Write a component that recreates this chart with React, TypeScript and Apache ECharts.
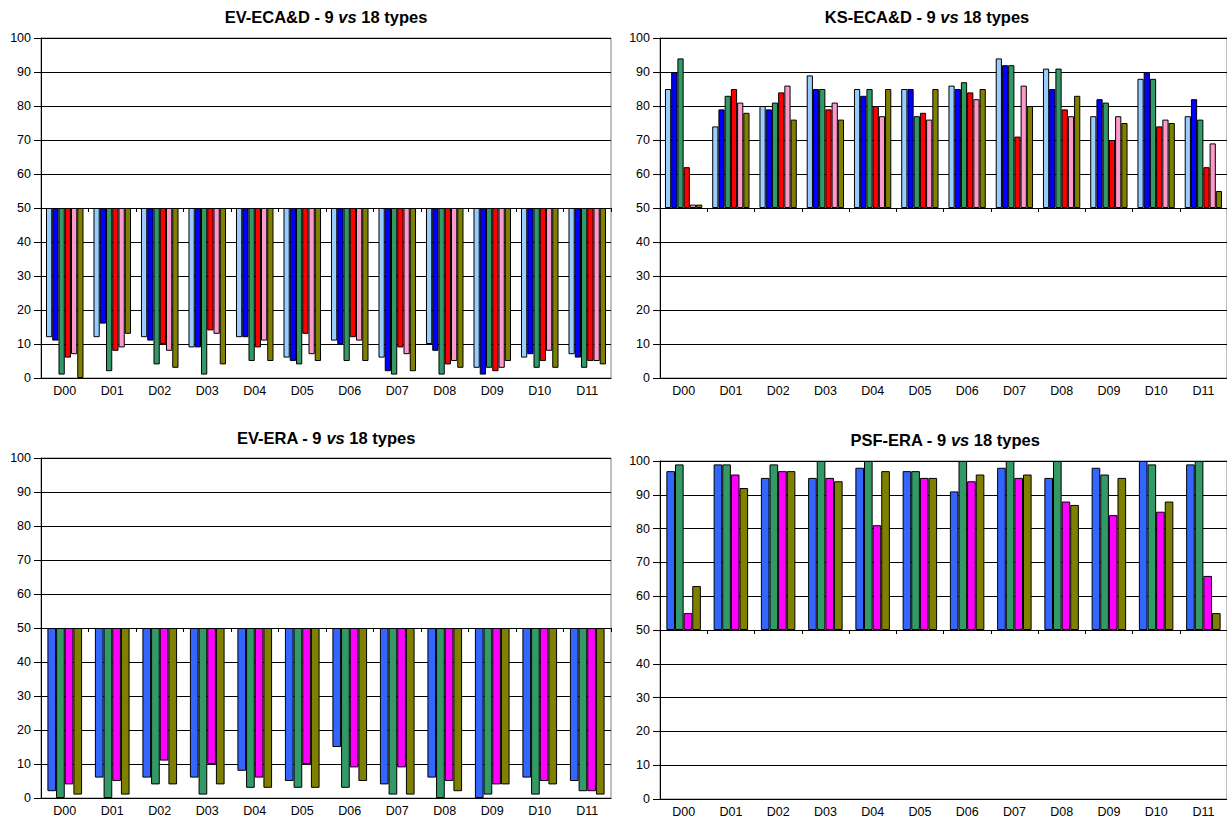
import React, { useEffect, useRef } from "react";
import * as echarts from "echarts";

const categories = ["D00", "D01", "D02", "D03", "D04", "D05", "D06", "D07", "D08", "D09", "D10", "D11"];
const yTickLabels = ["0", "10", "20", "30", "40", "50", "60", "70", "80", "90", "100"];

// EV-ECA&D
const evEcad1 = [12, 12, 12, 9, 12, 6, 11, 6, 10, 3, 6, 7];
const evEcad2 = [11, 16, 11, 9, 12, 5, 10, 2, 8, 1, 7, 6];
const evEcad3 = [1, 2, 4, 1, 5, 4, 5, 1, 1, 3, 3, 3];
const evEcad4 = [6, 8, 10, 14, 9, 13, 12, 9, 4, 2, 5, 5];
const evEcad5 = [7, 9, 8, 13, 11, 7, 11, 7, 5, 3, 8, 5];
const evEcad6 = [0, 13, 3, 4, 5, 5, 5, 2, 3, 5, 3, 4];

// KS-ECA&D
const ksEcad1 = [85, 74, 80, 89, 85, 85, 86, 94, 91, 77, 88, 77];
const ksEcad2 = [90, 79, 79, 85, 83, 85, 85, 92, 85, 82, 90, 82];
const ksEcad3 = [94, 83, 81, 85, 85, 77, 87, 92, 91, 81, 88, 76];
const ksEcad4 = [62, 85, 84, 79, 80, 78, 84, 71, 79, 70, 74, 62];
const ksEcad5 = [51, 81, 86, 81, 77, 76, 82, 86, 77, 77, 76, 69];
const ksEcad6 = [51, 78, 76, 76, 85, 85, 85, 80, 83, 75, 75, 55];

// EV-ERA
const evEra1 = [2, 6, 6, 6, 8, 5, 15, 4, 6, 0, 6, 5];
const evEra2 = [0, 0, 4, 1, 3, 3, 3, 1, 0, 1, 1, 2];
const evEra3 = [4, 5, 11, 10, 6, 10, 9, 9, 5, 4, 5, 2];
const evEra4 = [1, 1, 4, 4, 3, 3, 5, 1, 2, 4, 4, 1];

// PSF-ERA
const psfEra1 = [97, 99, 95, 95, 98, 97, 91, 98, 95, 98, 100, 99];
const psfEra2 = [99, 99, 99, 100, 100, 97, 100, 100, 100, 96, 99, 100];
const psfEra3 = [55, 96, 97, 95, 81, 95, 94, 95, 88, 84, 85, 66];
const psfEra4 = [63, 92, 97, 94, 97, 95, 96, 96, 87, 95, 88, 55];

const BASE = 50;
const FONT = '"Liberation Sans", Arial, Helvetica, sans-serif';
const LABEL_SIZE = 12.5;
const TITLE_SIZE = 16.5;

const ecadColors = ["#99CCFF", "#0000FF", "#339966", "#FF0000", "#FF99CC", "#808000"];
const eraColors = ["#3366FF", "#339966", "#FF00FF", "#808000"];

const panels = [
  {
    title: ["EV-ECA&D - 9 ", "vs", " 18 types"],
    titleX: 326,
    titleY: 17,
    grid: { left: 41, top: 38, width: 570, height: 340 },
    series: [evEcad1, evEcad2, evEcad3, evEcad4, evEcad5, evEcad6],
    colors: ecadColors,
    gap: "21%",
  },
  {
    title: ["KS-ECA&D - 9 ", "vs", " 18 types"],
    titleX: 927,
    titleY: 17,
    grid: { left: 660, top: 38, width: 570, height: 340 },
    series: [ksEcad1, ksEcad2, ksEcad3, ksEcad4, ksEcad5, ksEcad6],
    colors: ecadColors,
    gap: "21%",
  },
  {
    title: ["EV-ERA - 9 ", "vs", " 18 types"],
    titleX: 326,
    titleY: 438,
    grid: { left: 41, top: 458, width: 570, height: 340 },
    series: [evEra1, evEra2, evEra3, evEra4],
    colors: eraColors,
    gap: "27%",
  },
  {
    title: ["PSF-ERA - 9 ", "vs", " 18 types"],
    titleX: 945,
    titleY: 440,
    grid: { left: 660, top: 461, width: 570, height: 339 },
    series: [psfEra1, psfEra2, psfEra3, psfEra4],
    colors: eraColors,
    gap: "27%",
  },
];

function buildOption() {
  const grid: any[] = [];
  const xAxis: any[] = [];
  const yAxis: any[] = [];
  const series: any[] = [];
  const graphic: any[] = [];

  panels.forEach((p, i) => {
    grid.push({
      ...p.grid,
      show: true,
      borderColor: "#808080",
      borderWidth: 1,
      backgroundColor: "transparent",
      containLabel: false,
    });
    // labelled axis at bottom (value 0)
    xAxis.push({
      gridIndex: i,
      type: "category",
      data: categories,
      position: "bottom",
      axisLine: { show: true, onZero: false, lineStyle: { color: "#000", width: 1 } },
      axisTick: { show: false },
      axisLabel: { color: "#000", fontSize: LABEL_SIZE, fontFamily: FONT, margin: 6 },
      splitLine: { show: false },
    });
    // axis crossing at 50 with ticks
    xAxis.push({
      gridIndex: i,
      type: "category",
      data: categories,
      position: "bottom",
      axisLine: { show: true, onZero: true, onZeroAxisIndex: i, lineStyle: { color: "#000", width: 1 } },
      axisTick: { show: true, length: 4, lineStyle: { color: "#000" } },
      axisLabel: { show: false },
      splitLine: { show: false },
    });
    yAxis.push({
      gridIndex: i,
      type: "value",
      min: -BASE,
      max: 100 - BASE,
      interval: 10,
      axisLine: { show: true, lineStyle: { color: "#000", width: 1 } },
      axisTick: { show: true, length: 7, lineStyle: { color: "#000" } },
      axisLabel: {
        color: "#000",
        fontSize: LABEL_SIZE,
        fontFamily: FONT,
        margin: 10,
        formatter: (v: number) => yTickLabels[Math.round((v + BASE) / 10)] ?? String(v + BASE),
      },
      splitLine: { show: true, lineStyle: { color: "#000", width: 1 } },
    });
    p.series.forEach((arr, k) => {
      series.push({
        type: "bar",
        name: `${p.title[0].split(" ")[0]} ${k + 1}`,
        xAxisIndex: 2 * i,
        yAxisIndex: i,
        data: arr.map((v) => v - BASE),
        barGap: "0%",
        barCategoryGap: p.gap,
        itemStyle: { color: p.colors[k], borderColor: "#000", borderWidth: 1 },
        emphasis: { disabled: true },
      });
    });
    graphic.push({
      type: "text",
      x: p.titleX,
      y: p.titleY,
      style: {
        text: `{b|${p.title[0]}}{i|${p.title[1]}}{b|${p.title[2]}}`,
        align: "center",
        verticalAlign: "middle",
        textAlign: "center",
        textVerticalAlign: "middle",
        fill: "#000",
        rich: {
          b: { fontWeight: "bold", fontSize: TITLE_SIZE, fontFamily: FONT, fill: "#000" },
          i: { fontWeight: "bold", fontStyle: "italic", fontSize: TITLE_SIZE, fontFamily: FONT, fill: "#000" },
        },
      },
    });
  });

  return {
    animation: false,
    backgroundColor: "#fff",
    grid,
    xAxis,
    yAxis,
    series,
    graphic,
  };
}

export default function App() {
  const ref = useRef<HTMLDivElement>(null);
  useEffect(() => {
    if (!ref.current) return;
    const chart = echarts.init(ref.current, null, { renderer: "svg" });
    chart.setOption(buildOption() as any);
    return () => chart.dispose();
  }, []);
  return (
    <div
      ref={ref}
      style={{ position: "absolute", left: 0, top: 0, width: 1227, height: 818, overflow: "hidden", background: "#fff" }}
    />
  );
}
